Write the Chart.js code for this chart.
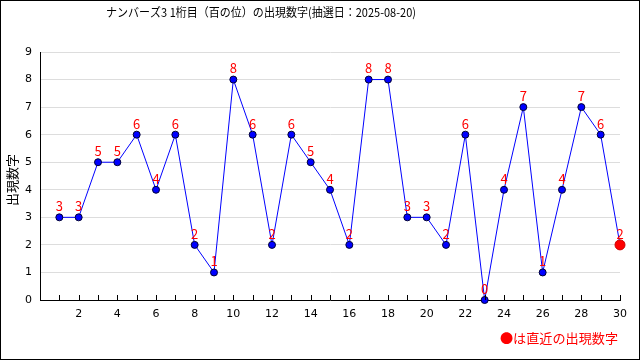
<!DOCTYPE html>
<html><head><meta charset="utf-8">
<script src="https://cdn.jsdelivr.net/npm/chart.js@4"></script>
<style>html,body{margin:0;padding:0;background:#fff}#wrap{width:640px;height:360px}</style>
</head><body><div id="wrap"><canvas id="c" width="640" height="360"></canvas></div>
<script>
const titleText = "ナンバーズ3 1桁目（百の位）の出現数字(抽選日：2025-08-20)";
const yTitle = "出現数字";
const legendText = "●は直近の出現数字";
const draws = [1,2,3,4,5,6,7,8,9,10,11,12,13,14,15,16,17,18,19,20,21,22,23,24,25,26,27,28,29,30];
const digits = [3,3,5,5,6,4,6,2,1,8,6,2,6,5,4,2,8,8,3,3,2,6,0,4,7,1,4,7,6,2];

const FONT = "'Noto Sans CJK JP', 'DejaVu Sans', sans-serif";
const n = digits.length;
const pts = draws.map((x,i)=>({x:x,y:digits[i]}));

function fitText(ctx, text, x, y, w){
  const m = ctx.measureText(text).width;
  ctx.save();
  ctx.translate(x, y);
  ctx.scale(w/m, 1);
  ctx.fillText(text, 0, 0);
  ctx.restore();
}

const deco = {
  id:'deco',
  afterDraw(chart){
    const ctx = chart.ctx, xs = chart.scales.x, ys = chart.scales.y, ca = chart.chartArea;
    ctx.save();
    ctx.strokeStyle = '#000'; ctx.lineWidth = 1;
    for (let v=1; v<=30; v++){
      const px = Math.round(xs.getPixelForValue(v))+0.5;
      ctx.beginPath(); ctx.moveTo(px, ca.bottom); ctx.lineTo(px, ca.bottom-5); ctx.stroke();
    }
    ctx.fillStyle = '#ff0000';
    ctx.font = "13px " + FONT;
    ctx.textAlign = 'center'; ctx.textBaseline = 'middle';
    pts.forEach(p=>{
      ctx.fillText(String(p.y), xs.getPixelForValue(p.x), ys.getPixelForValue(p.y)-11);
    });
    // title
    ctx.fillStyle = '#000';
    ctx.font = "12px " + FONT;
    ctx.textAlign = 'left'; ctx.textBaseline = 'middle';
    fitText(ctx, titleText, 106, 12, 310);
    // y title
    ctx.save();
    ctx.translate(12, 180);
    ctx.rotate(-Math.PI/2);
    ctx.font = "13px " + FONT;
    ctx.textAlign = 'center';
    ctx.fillText(yTitle, 0, 0);
    ctx.restore();
    // legend note
    ctx.fillStyle = '#ff0000';
    ctx.font = "13px " + FONT;
    ctx.textAlign = 'left';
    fitText(ctx, legendText, 500, 338, 118);
    ctx.strokeStyle = '#000';
    ctx.strokeRect(0.5, 0.5, 639, 359);
    ctx.restore();
  }
};

new Chart(document.getElementById('c'), {
  type:'line',
  data:{datasets:[{
    data: pts,
    borderColor:'#0000ff', borderWidth:1,
    pointBackgroundColor: pts.map((p,i)=> i===n-1 ? '#ff0000' : '#0000ff'),
    pointBorderColor: pts.map((p,i)=> i===n-1 ? '#cc0000' : '#000033'),
    pointBorderWidth:1,
    pointRadius: pts.map((p,i)=> i===n-1 ? 5 : 3.5),
    tension:0, clip:false
  }]},
  options:{
    responsive:false, animation:false,
    layout:{padding:{top:52, right:20, left:0, bottom:0}},
    plugins:{legend:{display:false}, tooltip:{enabled:false}},
    scales:{
      x:{type:'linear', min:0, max:30,
        afterFit(s){ s.height = 60; },
        grid:{display:false, drawTicks:false},
        border:{display:true, color:'#000', width:1},
        ticks:{stepSize:1, autoSkip:false, maxRotation:0, padding:8, color:'#000',
          font:{family:"'DejaVu Sans', sans-serif", size:11},
          callback:v=> (v%2===0 && v>0) ? String(v) : ''}
      },
      y:{min:0, max:9,
        afterFit(s){ s.width = 40; },
        grid:{color:'#dddddd', drawTicks:false},
        border:{display:true, color:'#000', width:1},
        ticks:{stepSize:1, padding:8, color:'#000', font:{family:"'DejaVu Sans', sans-serif", size:11}}
      }
    }
  },
  plugins:[deco]
});
</script></body></html>
